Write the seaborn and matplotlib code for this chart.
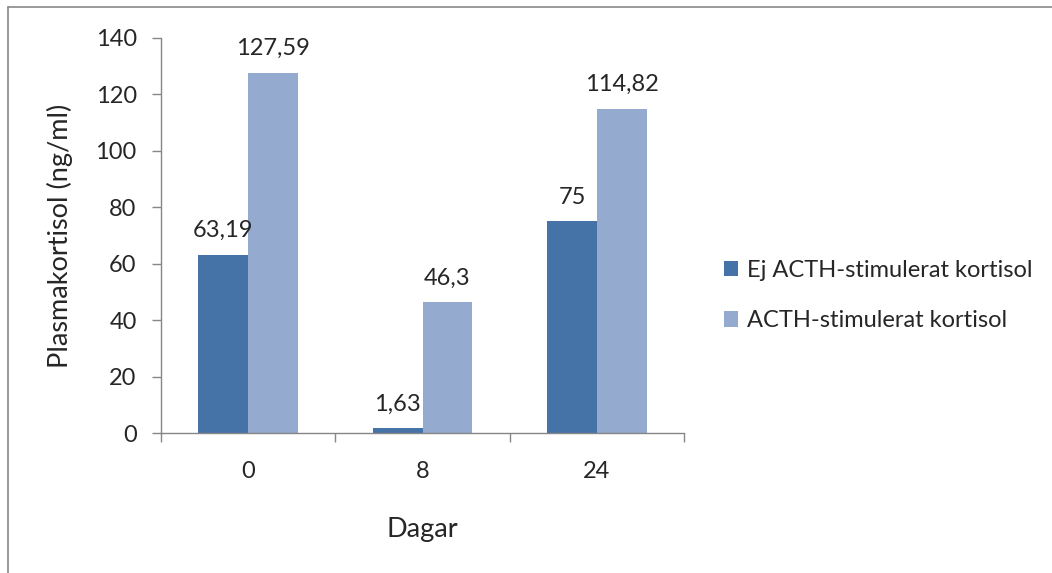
import matplotlib
matplotlib.use("Agg")
import matplotlib.pyplot as plt
import seaborn as sns
import pandas as pd
from matplotlib.lines import Line2D

days = ["0", "8", "24"]
series_names = ["Ej ACTH-stimulerat kortisol", "ACTH-stimulerat kortisol"]
ej_acth = [63.19, 1.63, 75]
acth = [127.59, 46.3, 114.82]
y_ticks = [0, 20, 40, 60, 80, 100, 120, 140]

sns.set_style("white")
plt.rcParams['font.family'] = ['Lato', 'DejaVu Sans']

df = pd.DataFrame({
    "Dagar": days * 2,
    "serie": [series_names[0]] * 3 + [series_names[1]] * 3,
    "value": ej_acth + acth,
})

colors = ["#4572A7", "#94AACF"]
fs = 17
fig = plt.figure(figsize=(10.52, 5.73), dpi=100)
ax = fig.add_axes([161/1052, 1-433/573, (684-161)/1052, (433-38)/573])

sns.barplot(data=df, x="Dagar", y="value", hue="serie", order=days,
            hue_order=series_names, palette=colors, width=0.571,
            saturation=1, ax=ax, legend=True, edgecolor="none")

ax.set_ylim(0, 140)
ax.set_xlim(-0.5, 2.5)
ax.set_yticks(y_ticks)
ax.set_yticklabels([str(t) for t in y_ticks], fontsize=fs)
ax.set_xticks([-0.5, 0.5, 1.5, 2.5])
ax.set_xticklabels([])
ax.set_xticks([0, 1, 2], minor=True)
ax.set_xticklabels(days, minor=True, fontsize=fs)
ax.tick_params(axis="x", which="major", length=6.5, width=1, color="#868686", direction="out", bottom=True)
ax.tick_params(axis="x", which="minor", length=0, pad=20)
ax.tick_params(axis="y", length=6.5, width=1, color="#868686", direction="out", left=True, pad=11)

for s in ["top", "right"]:
    ax.spines[s].set_visible(False)
for s in ["left", "bottom"]:
    ax.spines[s].set_color("#868686")
    ax.spines[s].set_linewidth(1)

ax.set_xlabel("Dagar", fontsize=19.5, labelpad=25)
ax.set_ylabel("Plasmakortisol (ng/ml)", fontsize=19.5, labelpad=16)

def fmt(v):
    return f"{v:g}".replace(".", ",")

for cont in ax.containers:
    for bar in cont:
        h = bar.get_height()
        ax.annotate(fmt(h), (bar.get_x() + bar.get_width()/2, h),
                    xytext=(0, 10), textcoords="offset points",
                    ha="center", va="bottom", fontsize=fs)

leg = ax.legend(loc="center left", bbox_to_anchor=(1.035, 0.348), frameon=False,
                fontsize=fs, handlelength=0.62, handleheight=0.62,
                handletextpad=0.38, labelspacing=1.25)

fig.add_artist(Line2D([8/1052, 1], [1-7/573, 1-7/573], color="#888888", lw=1.2,
                      transform=fig.transFigure))
fig.add_artist(Line2D([8/1052, 8/1052], [0, 1-7/573], color="#888888", lw=1.2,
                      transform=fig.transFigure))

fig.savefig("out.png", dpi=100)
